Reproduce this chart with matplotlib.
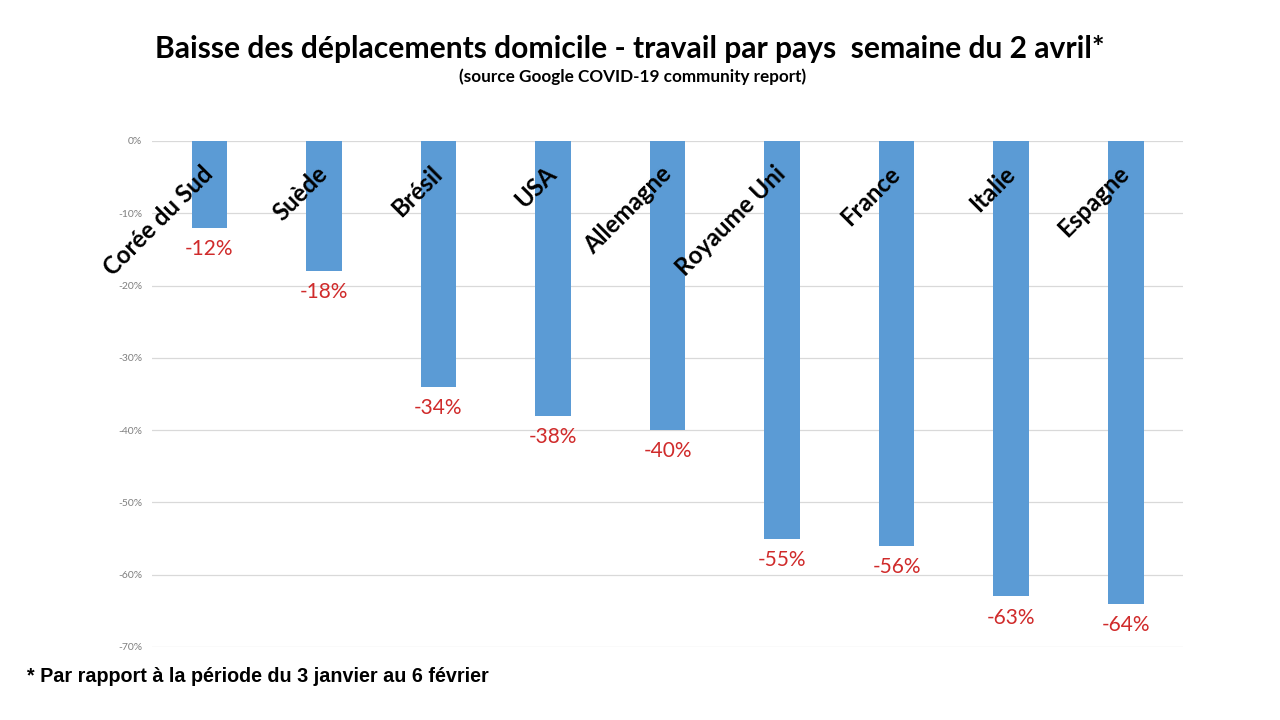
import matplotlib.pyplot as plt
import numpy as np

# data
pays = ['Corée du Sud', 'Suède', 'Brésil', 'USA', 'Allemagne',
        'Royaume Uni', 'France', 'Italie', 'Espagne']
baisse = [-12, -18, -34, -38, -40, -55, -56, -63, -64]
yticks = [0, -10, -20, -30, -40, -50, -60, -70]

BLUE = '#5B9BD5'
RED = '#D02B2B'

fig = plt.figure(figsize=(12.8, 7.2), dpi=100)
ax = fig.add_axes([0.11875, 0.1014, 0.8055, 0.7028])

x = np.arange(len(pays))
ax.bar(x, baisse, width=0.31, color=BLUE, zorder=2)

ax.set_xlim(-0.5, len(pays) - 0.5)
ax.set_ylim(-70, 0)
ax.set_yticks(yticks)
ax.set_yticklabels([f'{v}%' for v in yticks], fontsize=7.5, color='#7f7f7f',
                   family='Lato')
ax.tick_params(axis='y', length=0, pad=7)
ax.set_xticks([])
ax.grid(axis='y', color='#d9d9d9', linewidth=0.9, zorder=0)
for s in ax.spines.values():
    s.set_visible(False)

# category names, rotated, hanging from the zero line
for xi, name in zip(x, pays):
    ax.text(xi + 0.07, -2.9, name, rotation=45, ha='right', va='top',
            fontsize=17.3, fontweight='bold', family='Lato', zorder=3)

# value labels under each bar
for xi, v in zip(x, baisse):
    ax.annotate(f'{v}%', (xi, v), xytext=(0, -8), textcoords='offset points',
                ha='center', va='top', fontsize=15, color=RED, family='Lato')

fig.text(0.492, 0.932, 'Baisse des déplacements domicile - travail par pays  semaine du 2 avril*',
         ha='center', va='center', fontsize=21.6, fontweight='bold', family='Lato')
fig.text(0.494, 0.894, '(source Google COVID-19 community report)',
         ha='center', va='center', fontsize=12.3, fontweight='bold', family='Lato')
fig.text(0.021, 0.061, '* Par rapport à la période du 3 janvier au 6 février',
         ha='left', va='center', fontsize=14.2, fontweight='bold',
         family='Liberation Sans')

fig.savefig('out.png', dpi=100, facecolor='white')
